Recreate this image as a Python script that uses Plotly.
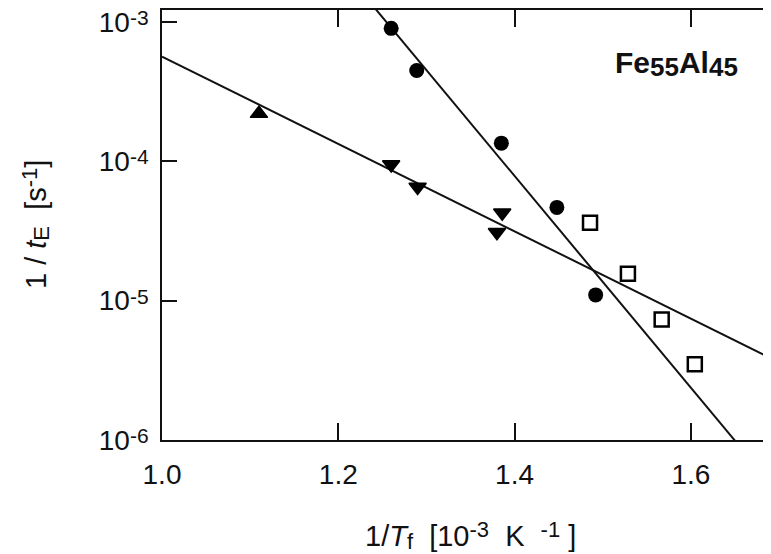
import plotly.graph_objects as go

# Data
circ_x = [1.260, 1.289, 1.385, 1.448, 1.492]
circ_y = [9.0e-4, 4.48e-4, 1.35e-4, 4.67e-5, 1.10e-5]

tdown_x = [1.260, 1.290, 1.386, 1.380]
tdown_y = [9.5e-5, 6.53e-5, 4.27e-5, 3.1e-5]

tup_x = [1.110]
tup_y = [2.2e-4]

sq_x = [1.4856, 1.5286, 1.5669, 1.6045]
sq_y = [3.62e-5, 1.56e-5, 7.31e-6, 3.50e-6]

steep_x = [1.24, 1.65]
steep_y = [1.29e-3, 9.9e-7]
shallow_x = [1.0, 1.7]
shallow_y = [5.64e-4, 3.61e-6]

x_ticks = [1.0, 1.2, 1.4, 1.6]
x_ticktext = ["1.0", "1.2", "1.4", "1.6"]
y_ticks = [1e-6, 1e-5, 1e-4, 1e-3]
y_exps = ["-6", "-5", "-4", "-3"]


def sup(t, px=21, shift=-3):
    return ('<sup><span style="font-size:%dpx;baseline-shift:%dpx">%s</span></sup>'
            % (px, shift, t))


def sub(t, px=22):
    return ('<sub><span style="font-size:%dpx;baseline-shift:3px">%s</span></sub>'
            % (px, t))


y_ticktext = ["10" + sup(e, 21, -5) for e in y_exps]

FONT = "Liberation Sans, Arial, sans-serif"
INK = "#111111"

fig = go.Figure()
fig.add_trace(go.Scatter(x=steep_x, y=steep_y, mode="lines",
                         line=dict(color=INK, width=2), hoverinfo="skip"))
fig.add_trace(go.Scatter(x=shallow_x, y=shallow_y, mode="lines",
                         line=dict(color=INK, width=2), hoverinfo="skip"))
fig.add_trace(go.Scatter(x=circ_x, y=circ_y, mode="markers",
                         marker=dict(symbol="circle", size=15, color="black")))
fig.add_trace(go.Scatter(x=tdown_x, y=tdown_y, mode="markers",
                         marker=dict(symbol="triangle-down", size=15, color="black",
                                     line=dict(color="black", width=1.5))))
fig.add_trace(go.Scatter(x=tup_x, y=tup_y, mode="markers",
                         marker=dict(symbol="triangle-up", size=15, color="black",
                                     line=dict(color="black", width=1.5))))
fig.add_trace(go.Scatter(x=sq_x, y=sq_y, mode="markers",
                         marker=dict(symbol="square-open", size=14, color="black",
                                     line=dict(color="black", width=2.5))))
# invisible trace to activate mirrored axes
fig.add_trace(go.Scatter(x=[1.1], y=[1e-5], xaxis="x2", yaxis="y2", mode="markers",
                         marker=dict(opacity=0), hoverinfo="skip"))

xr = [1.0, 1.7]
yr = [-6, -2.914]

x_title = ("1/<i>T</i>" + sub("f", 22) + "&nbsp;&nbsp;[10" + sup("-3", 22)
           + "&nbsp;&nbsp;K&nbsp;&nbsp;" + sup("-1", 22) + "&nbsp;]")
y_title = ("1 / <i>t</i>" + sub("E", 22) + "&nbsp;&nbsp;[s" + sup("-1", 22) + "]")
fe_title = ("<b>Fe" + sub("<b>55</b>", 26) + "Al" + sub("<b>45</b>", 26) + "</b>")

fig.update_layout(
    width=771, height=546,
    margin=dict(l=154, r=0, t=2, b=114, autoexpand=False),
    paper_bgcolor="white", plot_bgcolor="white",
    showlegend=False,
    font=dict(family=FONT, color=INK),
    xaxis=dict(range=xr, tickvals=x_ticks, ticktext=x_ticktext, ticks="inside",
               ticklen=17, tickwidth=1.5, tickcolor=INK, showline=True, linewidth=1.5,
               linecolor=INK, showgrid=False, zeroline=False, ticklabelstandoff=9,
               ticklabeloverflow="allow", automargin=False,
               tickfont=dict(size=28, family=FONT, color=INK)),
    xaxis2=dict(range=xr, overlaying="x", side="top", anchor="y", tickvals=x_ticks,
                ticks="inside", ticklen=17, tickwidth=1.5, tickcolor=INK,
                showline=True, linewidth=1.5, linecolor=INK, showgrid=False,
                zeroline=False, showticklabels=False, automargin=False),
    yaxis=dict(type="log", range=yr, tickvals=y_ticks, ticktext=y_ticktext,
               ticks="inside", ticklen=15, tickwidth=1.5, tickcolor=INK,
               showline=True, linewidth=1.5, linecolor=INK, showgrid=False,
               zeroline=False, ticklabelstandoff=6, ticklabeloverflow="allow",
               automargin=False,
               tickfont=dict(size=28, family=FONT, color=INK)),
    yaxis2=dict(type="log", range=yr, overlaying="y", side="right", anchor="x",
                tickvals=y_ticks, ticks="inside", ticklen=15, tickwidth=1.5,
                tickcolor=INK, showline=True, linewidth=1.5, linecolor=INK,
                showgrid=False, zeroline=False, showticklabels=False,
                automargin=False),
    annotations=[
        dict(text=fe_title, xref="paper", yref="paper",
             x=0.731, y=0.874, xanchor="left", yanchor="middle", showarrow=False,
             font=dict(size=30, family=FONT, color=INK)),
        dict(text=x_title, xref="paper", yref="paper", x=0.4992, y=-0.2225,
             xanchor="center", yanchor="middle", showarrow=False,
             font=dict(size=29, family=FONT, color=INK)),
        dict(text=y_title, xref="paper", yref="paper", x=-0.2058, y=0.5,
             xanchor="center", yanchor="middle", textangle=-90, showarrow=False,
             font=dict(size=29, family=FONT, color=INK)),
    ],
)

fig.write_html("out.html")
